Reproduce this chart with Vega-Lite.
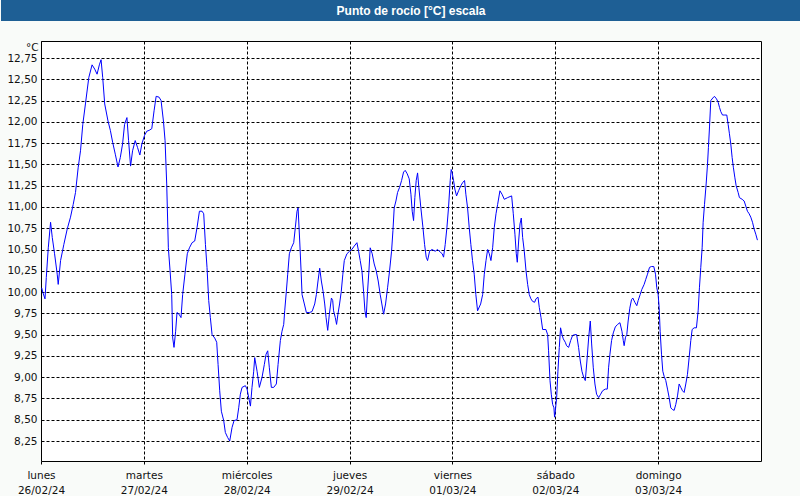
{
  "$schema": "https://vega.github.io/schema/vega-lite/v6.json",
  "background": "#f9fbf9",
  "padding": 0,
  "spacing": 19,
  "config": {"view": {"stroke": null}, "font": "DejaVu Sans"},
  "vconcat": [
    {
      "width": 760,
      "height": 21,
      "view": {"fill": "#1e5f95", "stroke": null},
      "data": {"values": [{"titulo": "Punto de rocío [°C] escala"}]},
      "mark": {"type": "text", "color": "white", "font": "Liberation Sans", "fontWeight": "bold", "fontSize": 12, "dx": -10},
      "encoding": {
        "text": {"field": "titulo", "type": "nominal"},
        "y": {
          "field": "titulo",
          "type": "nominal",
          "title": null,
          "axis": {"labels": false, "ticks": false, "domain": true, "domainColor": "#1e5f95", "domainWidth": 80, "domainCap": "butt", "translate": 0, "minExtent": 40, "maxExtent": 40}
        }
      }
    },
    {
      "width": 720,
      "height": 420,
      "view": {"fill": "white", "stroke": "black", "strokeWidth": 1},
      "data": {"values": [
        {"fecha": "2024-02-26T00:09", "valor": 10.05},
        {"fecha": "2024-02-26T00:28", "valor": 9.99},
        {"fecha": "2024-02-26T00:56", "valor": 9.92},
        {"fecha": "2024-02-26T01:14", "valor": 10.17},
        {"fecha": "2024-02-26T01:42", "valor": 10.52},
        {"fecha": "2024-02-26T02:14", "valor": 10.82},
        {"fecha": "2024-02-26T02:38", "valor": 10.64},
        {"fecha": "2024-02-26T03:10", "valor": 10.45},
        {"fecha": "2024-02-26T03:47", "valor": 10.21},
        {"fecha": "2024-02-26T04:01", "valor": 10.09},
        {"fecha": "2024-02-26T04:34", "valor": 10.37},
        {"fecha": "2024-02-26T05:20", "valor": 10.56},
        {"fecha": "2024-02-26T06:07", "valor": 10.74},
        {"fecha": "2024-02-26T06:53", "valor": 10.88},
        {"fecha": "2024-02-26T07:31", "valor": 11.03},
        {"fecha": "2024-02-26T08:03", "valor": 11.17},
        {"fecha": "2024-02-26T08:40", "valor": 11.46},
        {"fecha": "2024-02-26T09:13", "valor": 11.66},
        {"fecha": "2024-02-26T09:45", "valor": 11.97},
        {"fecha": "2024-02-26T10:22", "valor": 12.21},
        {"fecha": "2024-02-26T11:09", "valor": 12.52},
        {"fecha": "2024-02-26T11:55", "valor": 12.67},
        {"fecha": "2024-02-26T12:32", "valor": 12.62},
        {"fecha": "2024-02-26T13:05", "valor": 12.56},
        {"fecha": "2024-02-26T13:37", "valor": 12.67},
        {"fecha": "2024-02-26T14:01", "valor": 12.73},
        {"fecha": "2024-02-26T14:24", "valor": 12.52},
        {"fecha": "2024-02-26T14:52", "valor": 12.21},
        {"fecha": "2024-02-26T15:38", "valor": 12.01},
        {"fecha": "2024-02-26T16:11", "valor": 11.90},
        {"fecha": "2024-02-26T16:43", "valor": 11.76},
        {"fecha": "2024-02-26T17:20", "valor": 11.62},
        {"fecha": "2024-02-26T17:58", "valor": 11.47},
        {"fecha": "2024-02-26T18:30", "valor": 11.58},
        {"fecha": "2024-02-26T19:02", "valor": 11.74},
        {"fecha": "2024-02-26T19:30", "valor": 11.97},
        {"fecha": "2024-02-26T20:03", "valor": 12.05},
        {"fecha": "2024-02-26T20:26", "valor": 11.78},
        {"fecha": "2024-02-26T20:54", "valor": 11.48},
        {"fecha": "2024-02-26T21:22", "valor": 11.66},
        {"fecha": "2024-02-26T21:59", "valor": 11.78},
        {"fecha": "2024-02-26T22:31", "valor": 11.70},
        {"fecha": "2024-02-26T23:04", "valor": 11.61},
        {"fecha": "2024-02-26T23:32", "valor": 11.74},
        {"fecha": "2024-02-27T00:09", "valor": 11.84},
        {"fecha": "2024-02-27T00:41", "valor": 11.89},
        {"fecha": "2024-02-27T01:14", "valor": 11.90},
        {"fecha": "2024-02-27T01:51", "valor": 11.92},
        {"fecha": "2024-02-27T02:23", "valor": 12.13},
        {"fecha": "2024-02-27T02:52", "valor": 12.30},
        {"fecha": "2024-02-27T03:33", "valor": 12.29},
        {"fecha": "2024-02-27T04:01", "valor": 12.25},
        {"fecha": "2024-02-27T04:34", "valor": 12.01},
        {"fecha": "2024-02-27T04:57", "valor": 11.78},
        {"fecha": "2024-02-27T05:20", "valor": 11.27},
        {"fecha": "2024-02-27T05:43", "valor": 10.52},
        {"fecha": "2024-02-27T06:07", "valor": 10.25},
        {"fecha": "2024-02-27T06:30", "valor": 9.97},
        {"fecha": "2024-02-27T06:44", "valor": 9.46},
        {"fecha": "2024-02-27T07:02", "valor": 9.35},
        {"fecha": "2024-02-27T07:25", "valor": 9.54},
        {"fecha": "2024-02-27T07:44", "valor": 9.76},
        {"fecha": "2024-02-27T08:12", "valor": 9.74},
        {"fecha": "2024-02-27T08:40", "valor": 9.70},
        {"fecha": "2024-02-27T09:03", "valor": 9.97},
        {"fecha": "2024-02-27T09:35", "valor": 10.21},
        {"fecha": "2024-02-27T10:08", "valor": 10.45},
        {"fecha": "2024-02-27T10:38", "valor": 10.52},
        {"fecha": "2024-02-27T11:15", "valor": 10.58},
        {"fecha": "2024-02-27T11:52", "valor": 10.60},
        {"fecha": "2024-02-27T12:25", "valor": 10.76},
        {"fecha": "2024-02-27T12:58", "valor": 10.95},
        {"fecha": "2024-02-27T13:35", "valor": 10.95},
        {"fecha": "2024-02-27T13:58", "valor": 10.92},
        {"fecha": "2024-02-27T14:22", "valor": 10.56},
        {"fecha": "2024-02-27T14:44", "valor": 10.29},
        {"fecha": "2024-02-27T15:08", "valor": 9.90},
        {"fecha": "2024-02-27T15:31", "valor": 9.70},
        {"fecha": "2024-02-27T15:55", "valor": 9.50},
        {"fecha": "2024-02-27T16:32", "valor": 9.46},
        {"fecha": "2024-02-27T17:00", "valor": 9.41},
        {"fecha": "2024-02-27T17:19", "valor": 9.15},
        {"fecha": "2024-02-27T17:42", "valor": 8.84},
        {"fecha": "2024-02-27T18:05", "valor": 8.60},
        {"fecha": "2024-02-27T18:38", "valor": 8.49},
        {"fecha": "2024-02-27T19:01", "valor": 8.35},
        {"fecha": "2024-02-27T19:34", "valor": 8.29},
        {"fecha": "2024-02-27T20:02", "valor": 8.25},
        {"fecha": "2024-02-27T20:35", "valor": 8.41},
        {"fecha": "2024-02-27T21:03", "valor": 8.49},
        {"fecha": "2024-02-27T21:44", "valor": 8.50},
        {"fecha": "2024-02-27T22:08", "valor": 8.64},
        {"fecha": "2024-02-27T22:31", "valor": 8.80},
        {"fecha": "2024-02-27T22:55", "valor": 8.88},
        {"fecha": "2024-02-27T23:41", "valor": 8.90},
        {"fecha": "2024-02-28T00:05", "valor": 8.86},
        {"fecha": "2024-02-28T00:28", "valor": 8.76},
        {"fecha": "2024-02-28T00:52", "valor": 8.66},
        {"fecha": "2024-02-28T01:14", "valor": 8.88},
        {"fecha": "2024-02-28T01:38", "valor": 9.07},
        {"fecha": "2024-02-28T01:52", "valor": 9.23},
        {"fecha": "2024-02-28T02:25", "valor": 9.07},
        {"fecha": "2024-02-28T02:57", "valor": 8.88},
        {"fecha": "2024-02-28T03:35", "valor": 9.00},
        {"fecha": "2024-02-28T04:07", "valor": 9.15},
        {"fecha": "2024-02-28T04:31", "valor": 9.27},
        {"fecha": "2024-02-28T04:54", "valor": 9.31},
        {"fecha": "2024-02-28T05:17", "valor": 9.11},
        {"fecha": "2024-02-28T05:45", "valor": 8.88},
        {"fecha": "2024-02-28T06:18", "valor": 8.88},
        {"fecha": "2024-02-28T06:55", "valor": 8.92},
        {"fecha": "2024-02-28T07:19", "valor": 9.15},
        {"fecha": "2024-02-28T07:51", "valor": 9.43},
        {"fecha": "2024-02-28T08:14", "valor": 9.54},
        {"fecha": "2024-02-28T08:38", "valor": 9.62},
        {"fecha": "2024-02-28T08:52", "valor": 9.78},
        {"fecha": "2024-02-28T09:15", "valor": 10.01},
        {"fecha": "2024-02-28T09:34", "valor": 10.21},
        {"fecha": "2024-02-28T09:57", "valor": 10.45},
        {"fecha": "2024-02-28T10:25", "valor": 10.52},
        {"fecha": "2024-02-28T10:58", "valor": 10.58},
        {"fecha": "2024-02-28T11:21", "valor": 10.76},
        {"fecha": "2024-02-28T11:44", "valor": 10.95},
        {"fecha": "2024-02-28T11:59", "valor": 10.99},
        {"fecha": "2024-02-28T12:22", "valor": 10.60},
        {"fecha": "2024-02-28T12:41", "valor": 10.25},
        {"fecha": "2024-02-28T12:55", "valor": 9.97},
        {"fecha": "2024-02-28T13:27", "valor": 9.86},
        {"fecha": "2024-02-28T13:55", "valor": 9.76},
        {"fecha": "2024-02-28T14:37", "valor": 9.76},
        {"fecha": "2024-02-28T15:14", "valor": 9.77},
        {"fecha": "2024-02-28T15:52", "valor": 9.86},
        {"fecha": "2024-02-28T16:15", "valor": 9.97},
        {"fecha": "2024-02-28T16:38", "valor": 10.13},
        {"fecha": "2024-02-28T17:02", "valor": 10.28},
        {"fecha": "2024-02-28T17:25", "valor": 10.13},
        {"fecha": "2024-02-28T17:49", "valor": 10.01},
        {"fecha": "2024-02-28T18:12", "valor": 9.86},
        {"fecha": "2024-02-28T18:31", "valor": 9.70},
        {"fecha": "2024-02-28T18:54", "valor": 9.55},
        {"fecha": "2024-02-28T19:17", "valor": 9.74},
        {"fecha": "2024-02-28T19:46", "valor": 9.93},
        {"fecha": "2024-02-28T20:04", "valor": 9.90},
        {"fecha": "2024-02-28T20:16", "valor": 9.78},
        {"fecha": "2024-02-28T20:40", "valor": 9.70},
        {"fecha": "2024-02-28T20:58", "valor": 9.62},
        {"fecha": "2024-02-28T21:17", "valor": 9.74},
        {"fecha": "2024-02-28T21:40", "valor": 9.86},
        {"fecha": "2024-02-28T22:04", "valor": 10.01},
        {"fecha": "2024-02-28T22:26", "valor": 10.21},
        {"fecha": "2024-02-28T22:46", "valor": 10.37},
        {"fecha": "2024-02-28T23:23", "valor": 10.45},
        {"fecha": "2024-02-29T00:00", "valor": 10.48},
        {"fecha": "2024-02-29T00:32", "valor": 10.50},
        {"fecha": "2024-02-29T01:05", "valor": 10.54},
        {"fecha": "2024-02-29T01:43", "valor": 10.58},
        {"fecha": "2024-02-29T02:06", "valor": 10.48},
        {"fecha": "2024-02-29T02:29", "valor": 10.37},
        {"fecha": "2024-02-29T02:53", "valor": 10.25},
        {"fecha": "2024-02-29T03:16", "valor": 10.01},
        {"fecha": "2024-02-29T03:35", "valor": 9.78},
        {"fecha": "2024-02-29T03:53", "valor": 9.70},
        {"fecha": "2024-02-29T04:12", "valor": 10.01},
        {"fecha": "2024-02-29T04:31", "valor": 10.25},
        {"fecha": "2024-02-29T04:49", "valor": 10.52},
        {"fecha": "2024-02-29T05:17", "valor": 10.45},
        {"fecha": "2024-02-29T05:45", "valor": 10.33},
        {"fecha": "2024-02-29T06:13", "valor": 10.25},
        {"fecha": "2024-02-29T06:41", "valor": 10.13},
        {"fecha": "2024-02-29T07:09", "valor": 9.97},
        {"fecha": "2024-02-29T07:32", "valor": 9.86},
        {"fecha": "2024-02-29T07:56", "valor": 9.74},
        {"fecha": "2024-02-29T08:24", "valor": 9.86},
        {"fecha": "2024-02-29T08:52", "valor": 10.05},
        {"fecha": "2024-02-29T09:20", "valor": 10.25},
        {"fecha": "2024-02-29T09:48", "valor": 10.48},
        {"fecha": "2024-02-29T10:07", "valor": 10.72},
        {"fecha": "2024-02-29T10:25", "valor": 10.99},
        {"fecha": "2024-02-29T10:49", "valor": 11.07},
        {"fecha": "2024-02-29T11:12", "valor": 11.17},
        {"fecha": "2024-02-29T11:40", "valor": 11.23},
        {"fecha": "2024-02-29T12:08", "valor": 11.31},
        {"fecha": "2024-02-29T12:36", "valor": 11.41},
        {"fecha": "2024-02-29T12:59", "valor": 11.43},
        {"fecha": "2024-02-29T13:27", "valor": 11.39},
        {"fecha": "2024-02-29T13:55", "valor": 11.33},
        {"fecha": "2024-02-29T14:19", "valor": 11.15},
        {"fecha": "2024-02-29T14:37", "valor": 10.95},
        {"fecha": "2024-02-29T14:56", "valor": 10.84},
        {"fecha": "2024-02-29T15:14", "valor": 11.11},
        {"fecha": "2024-02-29T15:33", "valor": 11.31},
        {"fecha": "2024-02-29T15:52", "valor": 11.40},
        {"fecha": "2024-02-29T16:10", "valor": 11.23},
        {"fecha": "2024-02-29T16:38", "valor": 10.99},
        {"fecha": "2024-02-29T17:07", "valor": 10.76},
        {"fecha": "2024-02-29T17:30", "valor": 10.56},
        {"fecha": "2024-02-29T17:53", "valor": 10.41},
        {"fecha": "2024-02-29T18:12", "valor": 10.37},
        {"fecha": "2024-02-29T18:40", "valor": 10.48},
        {"fecha": "2024-02-29T19:13", "valor": 10.50},
        {"fecha": "2024-02-29T19:59", "valor": 10.48},
        {"fecha": "2024-02-29T20:32", "valor": 10.50},
        {"fecha": "2024-02-29T21:09", "valor": 10.47},
        {"fecha": "2024-02-29T21:37", "valor": 10.45},
        {"fecha": "2024-02-29T21:56", "valor": 10.41},
        {"fecha": "2024-02-29T22:19", "valor": 10.56},
        {"fecha": "2024-02-29T22:43", "valor": 10.76},
        {"fecha": "2024-02-29T23:05", "valor": 10.99},
        {"fecha": "2024-02-29T23:29", "valor": 11.31},
        {"fecha": "2024-02-29T23:43", "valor": 11.44},
        {"fecha": "2024-02-29T23:57", "valor": 11.40},
        {"fecha": "2024-03-01T00:16", "valor": 11.31},
        {"fecha": "2024-03-01T00:34", "valor": 11.21},
        {"fecha": "2024-03-01T00:58", "valor": 11.13},
        {"fecha": "2024-03-01T01:26", "valor": 11.19},
        {"fecha": "2024-03-01T01:58", "valor": 11.25},
        {"fecha": "2024-03-01T02:26", "valor": 11.29},
        {"fecha": "2024-03-01T02:50", "valor": 11.31},
        {"fecha": "2024-03-01T03:08", "valor": 11.15},
        {"fecha": "2024-03-01T03:32", "valor": 10.99},
        {"fecha": "2024-03-01T03:55", "valor": 10.76},
        {"fecha": "2024-03-01T04:18", "valor": 10.56},
        {"fecha": "2024-03-01T04:41", "valor": 10.37},
        {"fecha": "2024-03-01T05:05", "valor": 10.21},
        {"fecha": "2024-03-01T05:28", "valor": 9.97},
        {"fecha": "2024-03-01T05:52", "valor": 9.78},
        {"fecha": "2024-03-01T06:35", "valor": 9.86},
        {"fecha": "2024-03-01T07:03", "valor": 9.97},
        {"fecha": "2024-03-01T07:26", "valor": 10.21},
        {"fecha": "2024-03-01T07:50", "valor": 10.37},
        {"fecha": "2024-03-01T08:13", "valor": 10.50},
        {"fecha": "2024-03-01T08:36", "valor": 10.45},
        {"fecha": "2024-03-01T08:59", "valor": 10.37},
        {"fecha": "2024-03-01T09:23", "valor": 10.52},
        {"fecha": "2024-03-01T09:46", "valor": 10.76},
        {"fecha": "2024-03-01T10:10", "valor": 10.92},
        {"fecha": "2024-03-01T10:33", "valor": 11.03},
        {"fecha": "2024-03-01T11:05", "valor": 11.19},
        {"fecha": "2024-03-01T11:34", "valor": 11.15},
        {"fecha": "2024-03-01T12:06", "valor": 11.09},
        {"fecha": "2024-03-01T12:53", "valor": 11.11},
        {"fecha": "2024-03-01T13:49", "valor": 11.13},
        {"fecha": "2024-03-01T14:12", "valor": 10.92},
        {"fecha": "2024-03-01T14:35", "valor": 10.68},
        {"fecha": "2024-03-01T14:54", "valor": 10.45},
        {"fecha": "2024-03-01T15:08", "valor": 10.35},
        {"fecha": "2024-03-01T15:27", "valor": 10.60},
        {"fecha": "2024-03-01T15:46", "valor": 10.80},
        {"fecha": "2024-03-01T16:04", "valor": 10.87},
        {"fecha": "2024-03-01T16:23", "valor": 10.64},
        {"fecha": "2024-03-01T16:46", "valor": 10.48},
        {"fecha": "2024-03-01T17:10", "valor": 10.25},
        {"fecha": "2024-03-01T17:33", "valor": 10.09},
        {"fecha": "2024-03-01T17:56", "valor": 9.97},
        {"fecha": "2024-03-01T18:19", "valor": 9.92},
        {"fecha": "2024-03-01T18:43", "valor": 9.89},
        {"fecha": "2024-03-01T19:11", "valor": 9.88},
        {"fecha": "2024-03-01T19:29", "valor": 9.92},
        {"fecha": "2024-03-01T19:58", "valor": 9.94},
        {"fecha": "2024-03-01T20:16", "valor": 9.82},
        {"fecha": "2024-03-01T20:40", "valor": 9.70},
        {"fecha": "2024-03-01T21:03", "valor": 9.56},
        {"fecha": "2024-03-01T21:49", "valor": 9.56},
        {"fecha": "2024-03-01T22:13", "valor": 9.50},
        {"fecha": "2024-03-01T22:26", "valor": 9.31},
        {"fecha": "2024-03-01T22:46", "valor": 8.96},
        {"fecha": "2024-03-01T23:04", "valor": 8.80},
        {"fecha": "2024-03-01T23:23", "valor": 8.68},
        {"fecha": "2024-03-01T23:41", "valor": 8.64},
        {"fecha": "2024-03-01T23:50", "valor": 8.53},
        {"fecha": "2024-03-02T00:00", "valor": 8.60},
        {"fecha": "2024-03-02T00:19", "valor": 8.76},
        {"fecha": "2024-03-02T00:37", "valor": 9.07},
        {"fecha": "2024-03-02T00:56", "valor": 9.35},
        {"fecha": "2024-03-02T01:14", "valor": 9.58},
        {"fecha": "2024-03-02T01:34", "valor": 9.50},
        {"fecha": "2024-03-02T01:52", "valor": 9.45},
        {"fecha": "2024-03-02T02:20", "valor": 9.41},
        {"fecha": "2024-03-02T02:38", "valor": 9.37},
        {"fecha": "2024-03-02T03:07", "valor": 9.35},
        {"fecha": "2024-03-02T03:35", "valor": 9.43},
        {"fecha": "2024-03-02T04:02", "valor": 9.49},
        {"fecha": "2024-03-02T04:31", "valor": 9.50},
        {"fecha": "2024-03-02T04:59", "valor": 9.50},
        {"fecha": "2024-03-02T05:26", "valor": 9.35},
        {"fecha": "2024-03-02T05:50", "valor": 9.19},
        {"fecha": "2024-03-02T06:13", "valor": 9.07},
        {"fecha": "2024-03-02T06:37", "valor": 9.00},
        {"fecha": "2024-03-02T07:00", "valor": 8.96},
        {"fecha": "2024-03-02T07:23", "valor": 9.19},
        {"fecha": "2024-03-02T07:47", "valor": 9.46},
        {"fecha": "2024-03-02T08:10", "valor": 9.66},
        {"fecha": "2024-03-02T08:29", "valor": 9.39},
        {"fecha": "2024-03-02T08:52", "valor": 9.11},
        {"fecha": "2024-03-02T09:15", "valor": 8.92},
        {"fecha": "2024-03-02T09:38", "valor": 8.80},
        {"fecha": "2024-03-02T10:07", "valor": 8.76},
        {"fecha": "2024-03-02T10:35", "valor": 8.80},
        {"fecha": "2024-03-02T11:02", "valor": 8.84},
        {"fecha": "2024-03-02T11:40", "valor": 8.86},
        {"fecha": "2024-03-02T12:08", "valor": 8.86},
        {"fecha": "2024-03-02T12:26", "valor": 9.11},
        {"fecha": "2024-03-02T12:45", "valor": 9.27},
        {"fecha": "2024-03-02T13:08", "valor": 9.43},
        {"fecha": "2024-03-02T13:32", "valor": 9.52},
        {"fecha": "2024-03-02T14:00", "valor": 9.59},
        {"fecha": "2024-03-02T14:32", "valor": 9.62},
        {"fecha": "2024-03-02T15:05", "valor": 9.64},
        {"fecha": "2024-03-02T15:33", "valor": 9.54},
        {"fecha": "2024-03-02T15:52", "valor": 9.43},
        {"fecha": "2024-03-02T16:04", "valor": 9.37},
        {"fecha": "2024-03-02T16:23", "valor": 9.47},
        {"fecha": "2024-03-02T16:41", "valor": 9.50},
        {"fecha": "2024-03-02T17:00", "valor": 9.66},
        {"fecha": "2024-03-02T17:23", "valor": 9.81},
        {"fecha": "2024-03-02T17:47", "valor": 9.91},
        {"fecha": "2024-03-02T18:05", "valor": 9.93},
        {"fecha": "2024-03-02T18:34", "valor": 9.88},
        {"fecha": "2024-03-02T19:01", "valor": 9.84},
        {"fecha": "2024-03-02T19:20", "valor": 9.90},
        {"fecha": "2024-03-02T19:48", "valor": 9.97},
        {"fecha": "2024-03-02T20:11", "valor": 10.03},
        {"fecha": "2024-03-02T20:44", "valor": 10.09},
        {"fecha": "2024-03-02T21:07", "valor": 10.15},
        {"fecha": "2024-03-02T21:31", "valor": 10.21},
        {"fecha": "2024-03-02T21:59", "valor": 10.29},
        {"fecha": "2024-03-02T22:26", "valor": 10.30},
        {"fecha": "2024-03-02T22:59", "valor": 10.30},
        {"fecha": "2024-03-02T23:23", "valor": 10.21},
        {"fecha": "2024-03-02T23:41", "valor": 10.05},
        {"fecha": "2024-03-03T00:00", "valor": 9.97},
        {"fecha": "2024-03-03T00:14", "valor": 9.82},
        {"fecha": "2024-03-03T00:28", "valor": 9.54},
        {"fecha": "2024-03-03T00:47", "valor": 9.27},
        {"fecha": "2024-03-03T01:05", "valor": 9.07},
        {"fecha": "2024-03-03T01:24", "valor": 9.01},
        {"fecha": "2024-03-03T01:47", "valor": 8.96},
        {"fecha": "2024-03-03T02:11", "valor": 8.86},
        {"fecha": "2024-03-03T02:34", "valor": 8.76},
        {"fecha": "2024-03-03T02:57", "valor": 8.64},
        {"fecha": "2024-03-03T03:20", "valor": 8.62},
        {"fecha": "2024-03-03T03:44", "valor": 8.61},
        {"fecha": "2024-03-03T04:07", "valor": 8.68},
        {"fecha": "2024-03-03T04:31", "valor": 8.78},
        {"fecha": "2024-03-03T04:54", "valor": 8.92},
        {"fecha": "2024-03-03T05:17", "valor": 8.88},
        {"fecha": "2024-03-03T05:41", "valor": 8.84},
        {"fecha": "2024-03-03T06:04", "valor": 8.82},
        {"fecha": "2024-03-03T06:27", "valor": 8.92},
        {"fecha": "2024-03-03T06:50", "valor": 9.03},
        {"fecha": "2024-03-03T07:14", "valor": 9.23},
        {"fecha": "2024-03-03T07:37", "valor": 9.43},
        {"fecha": "2024-03-03T07:56", "valor": 9.56},
        {"fecha": "2024-03-03T08:24", "valor": 9.58},
        {"fecha": "2024-03-03T08:56", "valor": 9.58},
        {"fecha": "2024-03-03T09:20", "valor": 9.78},
        {"fecha": "2024-03-03T09:38", "valor": 10.05},
        {"fecha": "2024-03-03T09:57", "valor": 10.29},
        {"fecha": "2024-03-03T10:16", "valor": 10.52},
        {"fecha": "2024-03-03T10:30", "valor": 10.82},
        {"fecha": "2024-03-03T10:49", "valor": 11.03},
        {"fecha": "2024-03-03T11:12", "valor": 11.27},
        {"fecha": "2024-03-03T11:31", "valor": 11.50},
        {"fecha": "2024-03-03T11:44", "valor": 11.70},
        {"fecha": "2024-03-03T11:59", "valor": 11.94},
        {"fecha": "2024-03-03T12:17", "valor": 12.25},
        {"fecha": "2024-03-03T12:45", "valor": 12.28},
        {"fecha": "2024-03-03T13:08", "valor": 12.30},
        {"fecha": "2024-03-03T13:37", "valor": 12.27},
        {"fecha": "2024-03-03T14:00", "valor": 12.23},
        {"fecha": "2024-03-03T14:19", "valor": 12.17},
        {"fecha": "2024-03-03T14:37", "valor": 12.12},
        {"fecha": "2024-03-03T15:01", "valor": 12.08},
        {"fecha": "2024-03-03T15:33", "valor": 12.08},
        {"fecha": "2024-03-03T16:01", "valor": 12.08},
        {"fecha": "2024-03-03T16:20", "valor": 11.97},
        {"fecha": "2024-03-03T16:38", "valor": 11.86},
        {"fecha": "2024-03-03T16:57", "valor": 11.74},
        {"fecha": "2024-03-03T17:16", "valor": 11.58},
        {"fecha": "2024-03-03T17:34", "valor": 11.46},
        {"fecha": "2024-03-03T17:53", "valor": 11.35},
        {"fecha": "2024-03-03T18:12", "valor": 11.25},
        {"fecha": "2024-03-03T18:40", "valor": 11.17},
        {"fecha": "2024-03-03T18:58", "valor": 11.11},
        {"fecha": "2024-03-03T19:36", "valor": 11.09},
        {"fecha": "2024-03-03T20:04", "valor": 11.07},
        {"fecha": "2024-03-03T20:27", "valor": 11.01},
        {"fecha": "2024-03-03T20:50", "valor": 10.95},
        {"fecha": "2024-03-03T21:14", "valor": 10.92},
        {"fecha": "2024-03-03T21:37", "valor": 10.88},
        {"fecha": "2024-03-03T22:01", "valor": 10.82},
        {"fecha": "2024-03-03T22:24", "valor": 10.74},
        {"fecha": "2024-03-03T22:47", "valor": 10.68},
        {"fecha": "2024-03-03T23:10", "valor": 10.61}
      ]},
      "mark": {"type": "line", "color": "#0000ff", "strokeWidth": 1, "interpolate": "linear"},
      "encoding": {
        "x": {
          "field": "fecha",
          "type": "temporal",
          "title": null,
          "scale": {"domain": [{"year": 2024, "month": "feb", "date": 26}, {"year": 2024, "month": "mar", "date": 4}]},
          "axis": {
            "values": [
              {"year": 2024, "month": "feb", "date": 26},
              {"year": 2024, "month": "feb", "date": 27},
              {"year": 2024, "month": "feb", "date": 28},
              {"year": 2024, "month": "feb", "date": 29},
              {"year": 2024, "month": "mar", "date": 1},
              {"year": 2024, "month": "mar", "date": 2},
              {"year": 2024, "month": "mar", "date": 3}
            ],
            "labelExpr": "[['domingo','lunes','martes','miércoles','jueves','viernes','sábado'][day(datum.value)], timeFormat(datum.value, '%d/%m/%y')]",
            "grid": true,
            "gridColor": "#000000",
            "gridDash": [3, 2],
            "gridOpacity": 1,
            "gridWidth": 1,
            "domain": false,
            "ticks": true,
            "tickSize": 3,
            "tickColor": "#000000",
            "labelPadding": 6,
            "labelLineHeight": 15,
            "labelFontSize": 10.5,
            "labelColor": "#111111",
            "labelBaseline": "top",
            "labelOverlap": false,
            "labelFlush": false,
            "labelBound": false
          }
        },
        "y": {
          "field": "valor",
          "type": "quantitative",
          "title": "°C",
          "scale": {"domain": [8.015, 12.95], "nice": false, "zero": false},
          "axis": {
            "values": [8.25, 8.5, 8.75, 9, 9.25, 9.5, 9.75, 10, 10.25, 10.5, 10.75, 11, 11.25, 11.5, 11.75, 12, 12.25, 12.5, 12.75],
            "labelExpr": "replace(format(datum.value, '.2f'), '.', ',')",
            "grid": true,
            "gridColor": "#000000",
            "gridDash": [3, 2],
            "gridOpacity": 1,
            "gridWidth": 1,
            "domain": false,
            "ticks": false,
            "tickSize": 0,
            "labelPadding": 4,
            "labelFontSize": 10.5,
            "labelColor": "#111111",
            "labelOverlap": false,
            "labelFlush": false,
            "minExtent": 40,
            "titleAngle": 0,
            "titleX": -3,
            "titleY": 6,
            "titleAlign": "right",
            "titleBaseline": "middle",
            "titleFontWeight": "normal",
            "titleFontSize": 10.5,
            "titleColor": "#111111",
            "titlePadding": 0
          }
        }
      }
    }
  ]
}
